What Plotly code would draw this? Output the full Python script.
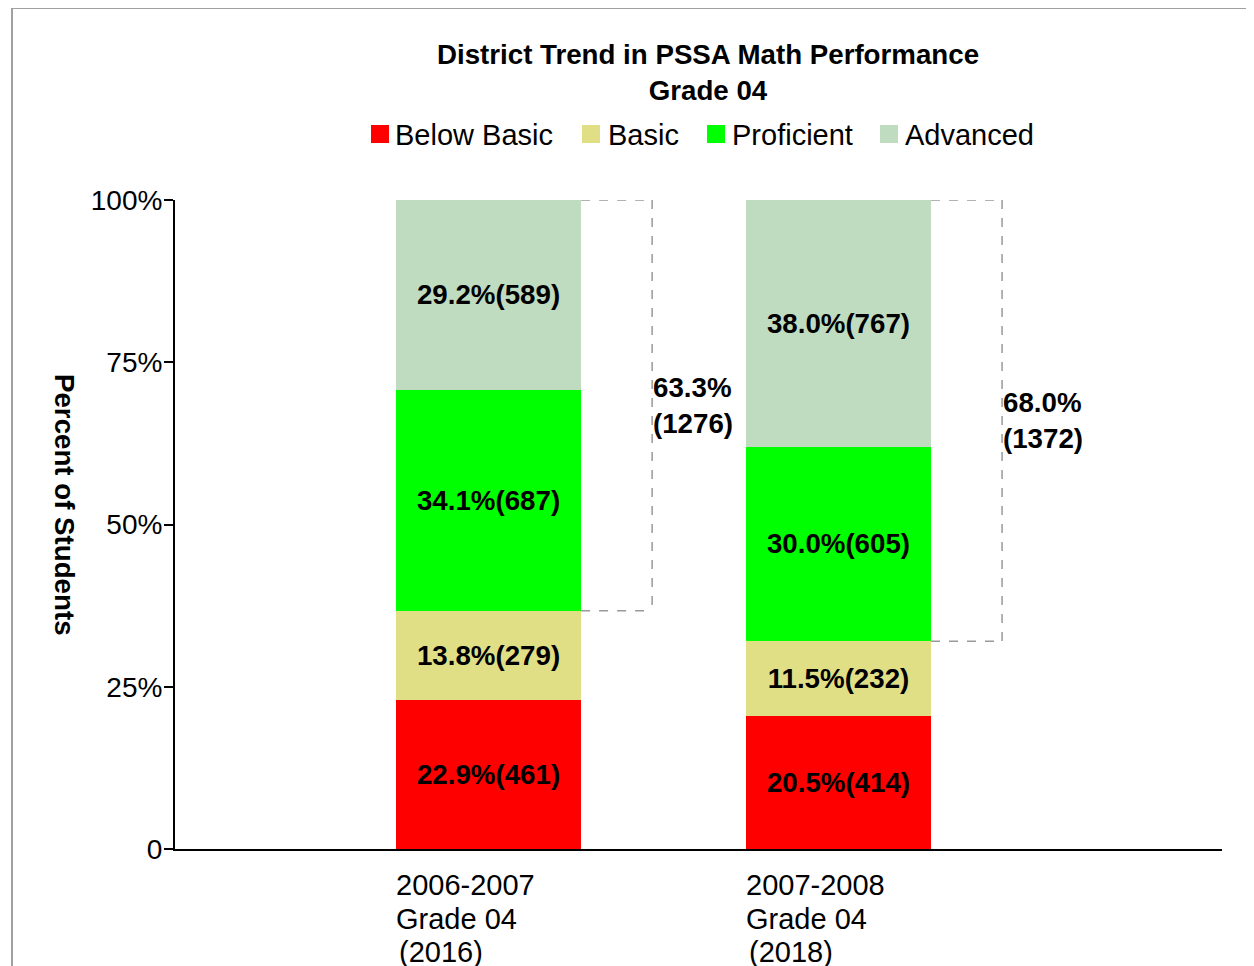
import plotly.graph_objects as go

# ---- data ----
years = ["2006-2007", "2007-2008"]
grade_label = "Grade 04"
levels = ["Below Basic", "Basic", "Proficient", "Advanced"]
colors = ["#ff0000", "#e0df86", "#00ff00", "#c0dcc0"]
pct = {
    "Below Basic": [22.9, 20.5],
    "Basic": [13.8, 11.5],
    "Proficient": [34.1, 30.0],
    "Advanced": [29.2, 38.0],
}
counts = {
    "Below Basic": [461, 414],
    "Basic": [279, 232],
    "Proficient": [687, 605],
    "Advanced": [589, 767],
}
y_tickvals = [0, 25, 50, 75, 100]
y_ticktext = ["0", "25%", "50%", "75%", "100%"]

# ---- layout / style ----
FONT = "Liberation Sans, Arial, sans-serif"
FS_REG = 29
FS_BOLD = 27.7
FS_TICK = 28
BAR_W = 0.529
BRACKET_W = 0.203

# plot area in page pixels (page has an 8px body margin)
PX_L, PX_R, PX_T, PX_B = 175, 1222, 200, 849
PW, PH = PX_R - PX_L, PX_B - PX_T


def px2x(px):
    return (px - PX_L) / PW


def px2y(py):
    return (PX_B - py) / PH


# legend layout (page pixels): square left edges and text left edges
legend_sq_left = [371, 582, 707, 880]
legend_txt_left = [395, 608, 732, 905]
LEGEND_Y = 134
SQ = 18

fig = go.Figure()
xs = list(range(len(years)))
for lvl, col in zip(levels, colors):
    fig.add_trace(go.Bar(
        name=lvl, x=xs, y=pct[lvl], width=BAR_W,
        marker=dict(color=col, line=dict(width=0)),
        customdata=counts[lvl],
        texttemplate="%{y:.1f}%(%{customdata})",
        textposition="inside", insidetextanchor="middle",
        textfont=dict(family=FONT, size=FS_BOLD, color="black", weight="bold"),
        textangle=0, showlegend=False,
    ))

shapes = []
annotations = []
for i in xs:
    top_pct = pct["Proficient"][i] + pct["Advanced"][i]
    top_cnt = counts["Proficient"][i] + counts["Advanced"][i]
    total = sum(counts[l][i] for l in levels)
    x0 = i + BAR_W / 2
    x1 = x0 + BRACKET_W
    ytop = 100
    ybot = 100 - top_pct
    ln = dict(color="#999999", width=1.5, dash="dash")
    shapes += [
        dict(type="line", xref="x", yref="y", x0=x0, x1=x1, y0=ytop, y1=ytop, line=ln),
        dict(type="line", xref="x", yref="y", x0=x1, x1=x1, y0=ytop, y1=ybot, line=ln),
        dict(type="line", xref="x", yref="y", x0=x0, x1=x1, y0=ybot, y1=ybot, line=ln),
    ]
    annotations.append(dict(
        xref="x", yref="y", x=x1, y=(ytop + ybot) / 2, xanchor="left", yanchor="middle",
        text=f"<b>{top_pct:.1f}%<br>({top_cnt})</b>", align="left", showarrow=False,
        font=dict(family=FONT, size=FS_BOLD, color="black"), xshift=-1,
    ))
    lines = [years[i], grade_label, f"({total})"]
    for line_txt, off, dx in zip(lines, [36, 70, 103], [-2, -2, 1]):
        annotations.append(dict(
            xref="x", yref="paper", x=i - BAR_W / 2, y=0, xanchor="left", yanchor="middle",
            yshift=-off, xshift=dx, text=line_txt, align="left", showarrow=False,
            font=dict(family=FONT, size=FS_REG, color="black"),
        ))

# legend (drawn manually to match swatch size / spacing)
for lvl, col, sq_l, tx_l in zip(levels, colors, legend_sq_left, legend_txt_left):
    shapes.append(dict(type="rect", xref="paper", yref="paper",
                       x0=px2x(sq_l), x1=px2x(sq_l + SQ),
                       y0=px2y(LEGEND_Y + SQ / 2), y1=px2y(LEGEND_Y - SQ / 2),
                       line=dict(width=0), fillcolor=col))
    annotations.append(dict(
        xref="paper", yref="paper", x=px2x(tx_l), y=px2y(LEGEND_Y + 1),
        xanchor="left", yanchor="middle", text=lvl, showarrow=False,
        font=dict(family=FONT, size=FS_REG, color="black"), xshift=-2,
    ))

# y axis title (reads top-to-bottom)
annotations.append(dict(
    xref="paper", yref="paper", x=px2x(65), y=px2y(505),
    xanchor="center", yanchor="middle", textangle=90,
    text="<b>Percent of Students</b>", showarrow=False,
    font=dict(family=FONT, size=FS_BOLD, color="black"),
))

# outer border
shapes.append(dict(type="rect", xref="paper", yref="paper",
                   x0=px2x(12), x1=3, y0=-3, y1=px2y(8),
                   line=dict(color="#a0a0a0", width=2), fillcolor="rgba(0,0,0,0)"))

W, H = 1254, 966
fig.update_layout(
    width=W, height=H,
    margin=dict(l=PX_L - 8, r=W - (PX_R - 8), t=PX_T - 8, b=H - (PX_B - 8)),
    paper_bgcolor="white", plot_bgcolor="white",
    barmode="stack", showlegend=False,
    title=dict(text="<b>District Trend in PSSA Math Performance<br>Grade 04</b>",
               x=(708 - 8) / W, xref="container", xanchor="center",
               y=1 - (64 - 8) / H, yref="container", yanchor="middle",
               font=dict(family=FONT, size=FS_BOLD, color="black")),
    xaxis=dict(range=[-0.896, 2.096], showticklabels=False, ticks="", showgrid=False,
               zeroline=False, showline=True, linecolor="black", linewidth=2, fixedrange=True),
    yaxis=dict(range=[0, 100], tickvals=y_tickvals, ticktext=y_ticktext, ticks="outside",
               ticklen=9, tickcolor="black", tickwidth=1.5, showgrid=False, zeroline=False,
               showline=True, linecolor="black", linewidth=2, ticklabelstandoff=-4,
               tickfont=dict(family=FONT, size=FS_TICK, color="black"), fixedrange=True),
    shapes=shapes,
    annotations=annotations,
    uniformtext=dict(minsize=FS_BOLD - 2, mode="show"),
)

fig.write_html("out.html")
